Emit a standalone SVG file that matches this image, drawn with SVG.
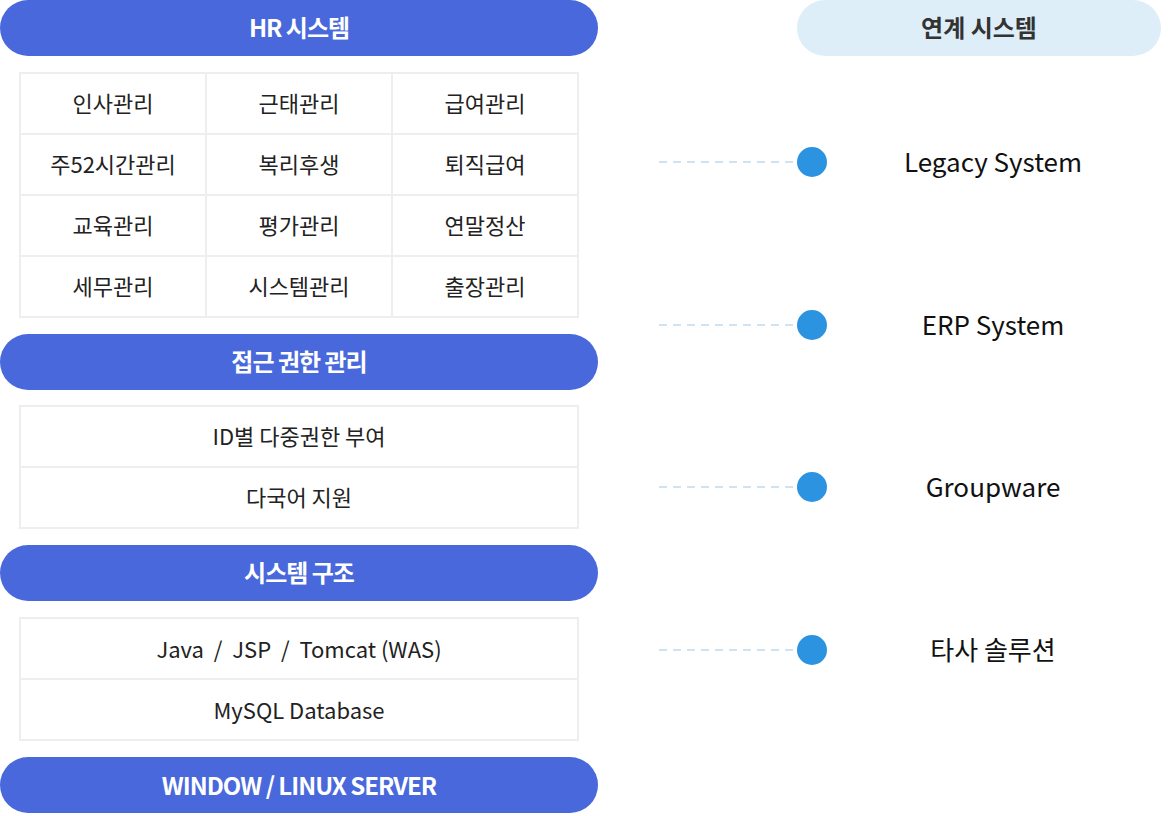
<svg xmlns="http://www.w3.org/2000/svg" width="1176" height="816" viewBox="0 0 1176 816">
<style>
.hd{fill:#4868dc}
.hdt{fill:#fff;font:bold 24px "Noto Sans CJK KR","Noto Sans",sans-serif;text-anchor:middle;letter-spacing:-1px}
.cell{fill:#fff;stroke:#eeeeee;stroke-width:2}
.ct{fill:#222;font:22px "Noto Sans CJK KR","Noto Sans",sans-serif;text-anchor:middle}
.rt{fill:#111;font:26px "Noto Sans CJK KR","Noto Sans",sans-serif;text-anchor:middle}
.dl{stroke:#cfe3f3;stroke-width:2;stroke-dasharray:8 6}
.dot{fill:#2b93e0}
</style>
<rect width="1176" height="816" fill="#fff"/>
<g id="hr"><rect class="hd" x="0" y="0" width="598" height="56" rx="28"/><text class="hdt" x="299" y="37">HR 시스템</text></g>
<g id="hr-grid">
<rect class="cell" x="20" y="73" width="186" height="61"/><rect class="cell" x="206" y="73" width="186" height="61"/><rect class="cell" x="392" y="73" width="186" height="61"/>
<rect class="cell" x="20" y="134" width="186" height="61"/><rect class="cell" x="206" y="134" width="186" height="61"/><rect class="cell" x="392" y="134" width="186" height="61"/>
<rect class="cell" x="20" y="195" width="186" height="61"/><rect class="cell" x="206" y="195" width="186" height="61"/><rect class="cell" x="392" y="195" width="186" height="61"/>
<rect class="cell" x="20" y="256" width="186" height="61"/><rect class="cell" x="206" y="256" width="186" height="61"/><rect class="cell" x="392" y="256" width="186" height="61"/>
<text class="ct" x="113" y="112">인사관리</text><text class="ct" x="299" y="112">근태관리</text><text class="ct" x="485" y="112">급여관리</text>
<text class="ct" x="113" y="173">주52시간관리</text><text class="ct" x="299" y="173">복리후생</text><text class="ct" x="485" y="173">퇴직급여</text>
<text class="ct" x="113" y="234">교육관리</text><text class="ct" x="299" y="234">평가관리</text><text class="ct" x="485" y="234">연말정산</text>
<text class="ct" x="113" y="295">세무관리</text><text class="ct" x="299" y="295">시스템관리</text><text class="ct" x="485" y="295">출장관리</text>
</g>
<g id="acl"><rect class="hd" x="0" y="334" width="598" height="56" rx="28"/><text class="hdt" x="299" y="371">접근 권한 관리</text></g>
<g id="acl-items">
<rect class="cell" x="20" y="406" width="558" height="61"/><rect class="cell" x="20" y="467" width="558" height="61"/>
<text class="ct" x="299" y="445">ID별 다중권한 부여</text><text class="ct" x="299" y="506">다국어 지원</text>
</g>
<g id="arch"><rect class="hd" x="0" y="545" width="598" height="56" rx="28"/><text class="hdt" x="299" y="582">시스템 구조</text></g>
<g id="arch-items">
<rect class="cell" x="20" y="618" width="558" height="61"/><rect class="cell" x="20" y="679" width="558" height="61"/>
<text class="ct" x="299" y="658" xml:space="preserve">Java  /  JSP  /  Tomcat (WAS)</text><text class="ct" x="299" y="719">MySQL Database</text>
</g>
<g id="server"><rect class="hd" x="0" y="757" width="598" height="56" rx="28"/><text class="hdt" x="299" y="795">WINDOW / LINUX SERVER</text></g>
<g id="link"><rect x="797" y="0" width="364" height="56" rx="28" fill="#deeef9"/><text x="979" y="37" text-anchor="middle" style="fill:#333;font:bold 24px 'Noto Sans CJK KR',sans-serif">연계 시스템</text></g>
<g id="connectors">
<line class="dl" x1="659" y1="162" x2="800" y2="162"/><line class="dl" x1="659" y1="325" x2="800" y2="325"/>
<line class="dl" x1="659" y1="487" x2="800" y2="487"/><line class="dl" x1="659" y1="650" x2="800" y2="650"/>
</g>
<g id="legacy"><circle class="dot" cx="812" cy="162" r="15"/><text class="rt" x="993" y="172">Legacy System</text></g>
<g id="erp"><circle class="dot" cx="812" cy="325" r="15"/><text class="rt" x="993" y="335">ERP System</text></g>
<g id="gw"><circle class="dot" cx="812" cy="487" r="15"/><text class="rt" x="993" y="497">Groupware</text></g>
<g id="other"><circle class="dot" cx="812" cy="650" r="15"/><text class="rt" x="993" y="660">타사 솔루션</text></g>
</svg>
